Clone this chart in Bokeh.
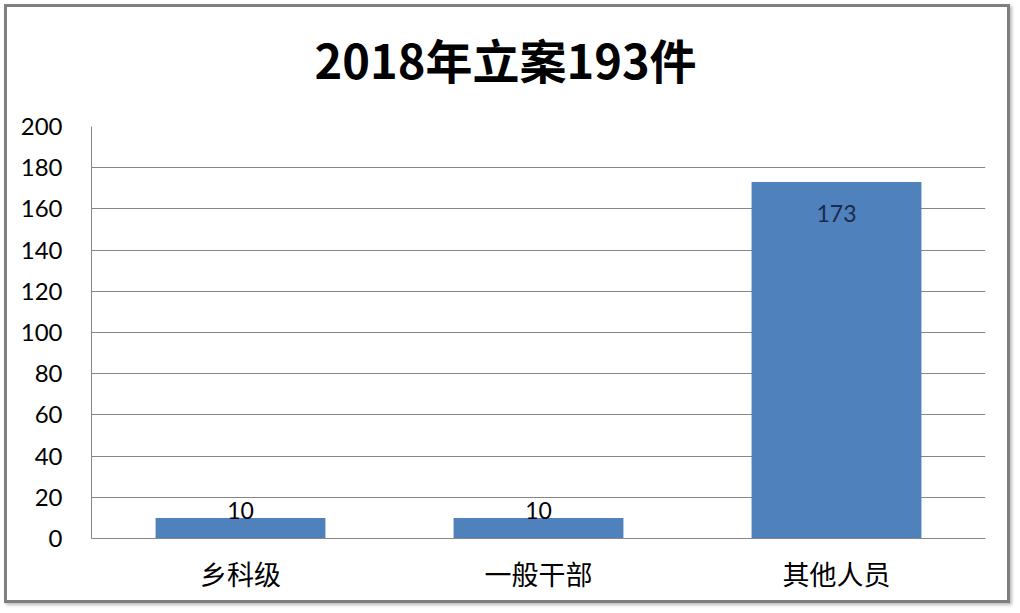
from bokeh.plotting import figure
from bokeh.models import ColumnDataSource, LabelSet, FixedTicker, Title
from bokeh.core.properties import value
from bokeh.embed import file_html
from bokeh.resources import INLINE

title_text = "2018年立案193件"
categories = ["乡科级", "一般干部", "其他人员"]
values = [10, 10, 173]
y_ticks = [0, 20, 40, 60, 80, 100, 120, 140, 160, 180, 200]

p = figure(x_range=categories, y_range=(0, 200), width=1006, height=599,
           output_backend="svg", toolbar_location=None, title=None,
           min_border_left=84, min_border_right=28, min_border_top=119, min_border_bottom=68)
p.styles = {"border": "3px solid #7f7f7f", "margin": "4px 0 0 4px",
            "box-shadow": "2px 2px 3px #bbbbbb"}

# spacer between plot area and title (closest to the frame)
p.add_layout(Title(text=" ", text_font_size="1px", standoff=30), "above")
p.add_layout(Title(text=title_text, align="left", offset=223, vertical_align="middle", standoff=0,
                   text_font="Noto Sans CJK SC", text_font_size="47px",
                   text_font_style="bold", text_color="#000000"), "above")

src = ColumnDataSource(dict(cat=categories, val=values))
p.vbar(x="cat", top="val", width=0.57, source=src, fill_color="#4F81BD", line_color=None)

inside_idx = [i for i, v in enumerate(values) if v > 100]
outside_idx = [i for i, v in enumerate(values) if v <= 100]
src_out = ColumnDataSource(dict(cat=[categories[i] for i in outside_idx],
                                val=[values[i] for i in outside_idx],
                                lab=[str(values[i]) for i in outside_idx]))
src_in = ColumnDataSource(dict(cat=[categories[i] for i in inside_idx],
                               val=[values[i] for i in inside_idx],
                               lab=[str(values[i]) for i in inside_idx]))
p.add_layout(LabelSet(x="cat", y="val", text="lab", source=src_out, text_align="center",
                      text_baseline="alphabetic", y_offset=-1, text_font=value("Lato"),
                      text_font_size=value("23px"), text_color="#000000"))
p.add_layout(LabelSet(x="cat", y="val", text="lab", source=src_in, text_align="center",
                      text_baseline="middle", y_offset=-31, text_font=value("Lato"),
                      text_font_size=value("23px"), text_color="#1b2a48"))

p.yaxis.ticker = FixedTicker(ticks=y_ticks)
p.yaxis.axis_line_color = "#868686"
p.yaxis.major_tick_line_color = None
p.yaxis.minor_tick_line_color = None
p.yaxis.major_label_text_font = "Lato"
p.yaxis.major_label_text_font_size = "24px"
p.yaxis.major_label_text_color = "#000000"
p.yaxis.major_label_standoff = 23

p.xaxis.axis_line_color = "#868686"
p.xaxis.major_tick_line_color = None
p.xaxis.minor_tick_line_color = None
p.xaxis.major_label_text_font = "Noto Sans CJK SC"
p.xaxis.major_label_text_font_size = "27px"
p.xaxis.major_label_text_color = "#000000"
p.xaxis.major_label_standoff = 9

p.xgrid.grid_line_color = None
p.ygrid.grid_line_color = "#868686"
p.ygrid.grid_line_width = 1
p.outline_line_color = None
p.background_fill_color = "#ffffff"
p.border_fill_color = "#ffffff"

open("out.html", "w").write(file_html(p, INLINE))
